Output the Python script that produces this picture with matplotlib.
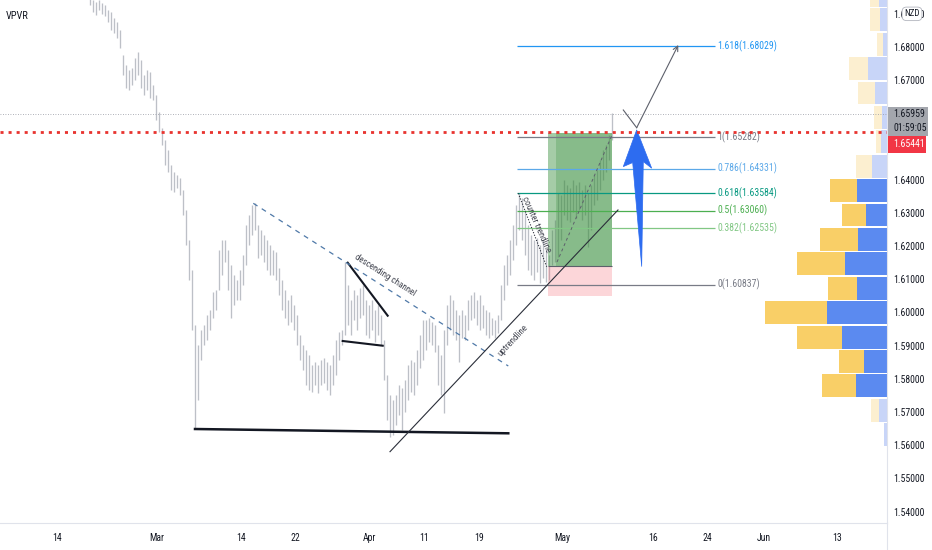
#EURNZD style chart: price bars, fib retracement, long position and VPVR profile

import numpy as np
import matplotlib.pyplot as plt
import matplotlib.transforms as mtransforms
from matplotlib.patches import Rectangle, Polygon

plt.rcParams['font.family'] = ['Liberation Sans Narrow', 'Roboto Condensed', 'DejaVu Sans']
plt.rcParams['font.stretch'] = 'condensed'

#bar highs / lows (one bar per step on the x axis)
highs = [1.6956, 1.6941, 1.6935, 1.6941, 1.6932, 1.6926, 1.6911, 1.6905, 1.6887, 1.6875,
         1.6851, 1.6775, 1.6745, 1.6730, 1.6736, 1.6766, 1.6784, 1.6760, 1.6715, 1.6730,
         1.6724, 1.6685, 1.6655, 1.6604, 1.6555, 1.6519, 1.6489, 1.6444, 1.6423, 1.6414,
         1.6405, 1.6369, 1.6308, 1.6218, 1.6128, 1.5962, 1.5902, 1.5947, 1.5962, 1.5992,
         1.6007, 1.6062, 1.6068, 1.6188, 1.6218, 1.6218, 1.6188, 1.6143, 1.6113, 1.6098,
         1.6128, 1.6173, 1.6263, 1.6293, 1.6324, 1.6330, 1.6263, 1.6248, 1.6233, 1.6218,
         1.6203, 1.6188, 1.6182, 1.6134, 1.6098, 1.6068, 1.6037, 1.6053, 1.6022, 1.5992,
         1.5932, 1.5902, 1.5887, 1.5872, 1.5842, 1.5851, 1.5842, 1.5857, 1.5863, 1.5851,
         1.5842, 1.5872, 1.5917, 1.5941, 1.5947, 1.6152, 1.6083, 1.6037, 1.6068, 1.6053,
         1.6074, 1.6083, 1.6037, 1.6022, 1.6037, 1.6007, 1.6022, 1.5992, 1.5917, 1.5812,
         1.5751, 1.5736, 1.5751, 1.5781, 1.5772, 1.5796, 1.5842, 1.5857, 1.5851, 1.5887,
         1.5932, 1.5977, 1.5977, 1.5983, 1.5971, 1.5962, 1.5902, 1.5872, 1.5947, 1.6022,
         1.6053, 1.6037, 1.6007, 1.5992, 1.6007, 1.5992, 1.6037, 1.6053, 1.6062, 1.6037,
         1.6053, 1.6022, 1.6007, 1.6001, 1.5983, 1.5977, 1.5992, 1.6083, 1.6143, 1.6173,
         1.6218, 1.6263, 1.6324, 1.6360, 1.6345, 1.6308, 1.6263, 1.6233, 1.6218, 1.6224,
         1.6203, 1.6218, 1.6188, 1.6173, 1.6248, 1.6278, 1.6360, 1.6354, 1.6399, 1.6384,
         1.6375, 1.6399, 1.6384, 1.6393, 1.6369, 1.6384, 1.6360, 1.6384, 1.6414, 1.6429,
         1.6459, 1.6489, 1.6504, 1.6534, 1.6601]
lows = [1.6926, 1.6905, 1.6896, 1.6911, 1.6899, 1.6893, 1.6875, 1.6851, 1.6842, 1.6827,
        1.6796, 1.6715, 1.6676, 1.6670, 1.6685, 1.6700, 1.6715, 1.6676, 1.6655, 1.6670,
        1.6646, 1.6640, 1.6580, 1.6543, 1.6504, 1.6444, 1.6423, 1.6369, 1.6363, 1.6375,
        1.6354, 1.6293, 1.6203, 1.6098, 1.5947, 1.5652, 1.5736, 1.5857, 1.5902, 1.5917,
        1.5947, 1.5983, 1.6007, 1.6068, 1.6113, 1.6152, 1.6068, 1.5983, 1.6022, 1.6037,
        1.6037, 1.6083, 1.6143, 1.6203, 1.6233, 1.6248, 1.6164, 1.6173, 1.6152, 1.6128,
        1.6113, 1.6113, 1.6098, 1.6053, 1.6007, 1.5983, 1.5962, 1.5971, 1.5947, 1.5902,
        1.5857, 1.5827, 1.5781, 1.5766, 1.5760, 1.5781, 1.5757, 1.5781, 1.5787, 1.5766,
        1.5751, 1.5781, 1.5812, 1.5857, 1.5902, 1.5932, 1.5962, 1.5932, 1.5977, 1.5947,
        1.5983, 1.5992, 1.5932, 1.5923, 1.5947, 1.5911, 1.5932, 1.5902, 1.5796, 1.5676,
        1.5625, 1.5631, 1.5661, 1.5691, 1.5646, 1.5700, 1.5736, 1.5760, 1.5751, 1.5781,
        1.5833, 1.5857, 1.5887, 1.5911, 1.5902, 1.5881, 1.5781, 1.5751, 1.5697, 1.5902,
        1.5947, 1.5932, 1.5917, 1.5851, 1.5923, 1.5917, 1.5947, 1.5977, 1.5983, 1.5962,
        1.5947, 1.5953, 1.5932, 1.5923, 1.5932, 1.5923, 1.5938, 1.5977, 1.6037, 1.6083,
        1.6113, 1.6158, 1.6203, 1.6248, 1.6218, 1.6173, 1.6128, 1.6113, 1.6098, 1.6122,
        1.6089, 1.6104, 1.6092, 1.6098, 1.6143, 1.6152, 1.6167, 1.6218, 1.6293, 1.6278,
        1.6272, 1.6302, 1.6284, 1.6308, 1.6278, 1.6293, 1.6197, 1.6248, 1.6324, 1.6339,
        1.6369, 1.6399, 1.6423, 1.6459, 1.6519]

#axis labels
date_ticks = [-11, 22.33, 50.33, 68.5, 93, 111.33, 129.67, 157.33, 187.67, 205.83, 224.67, 249]
date_labels = ['14', 'Mar', '14', '22', 'Apr', '11', '19', 'May', '16', '24', 'Jun', '13']
price_ticks = [1.54, 1.55, 1.56, 1.57, 1.58, 1.59, 1.60, 1.61, 1.62, 1.63, 1.64, 1.67, 1.68, 1.69]

last_price = 1.65959
last_timer = '01:59:05'
line_price = 1.65441

#fib retracement
fib_levels = ['1.618', '1', '0.786', '0.618', '0.5', '0.382', '0']
fib_prices = [1.68029, 1.65282, 1.64331, 1.63584, 1.63060, 1.62535, 1.60837]
fib_colors = ['#2196f3', '#787b86', '#5ba8e8', '#089981', '#4caf50', '#81c784', '#787b86']
fib_x = [142.33, 208.33]

#long position
pos_x = [152.67, 174]
pos_entry = 1.61395
pos_target = 1.65401
pos_stop = 1.60491

#drawings (bar index, price)
support_x, support_y = [35, 139.43], [1.56485, 1.56356]
wedge_hi_x, wedge_hi_y = [85.9, 99.23], [1.61494, 1.59898]
wedge_lo_x, wedge_lo_y = [84.23, 97.57], [1.59136, 1.58994]
channel_x, channel_y = [54.43, 139.43], [1.63283, 1.58383]
uptrend_x, uptrend_y = [100, 176], [1.55802, 1.63082]
counter_x, counter_y = [142.77, 152.23], [1.63585, 1.61374]
inbox_x, inbox_y = [155.67, 174], [1.61515, 1.65341]
proj_x, proj_y = [177.77, 182.23, 196.1], [1.66094, 1.65560, 1.68052]
arrow_x = [182.23, 187.23, 184.43, 183.9, 180.9, 177.77]
arrow_y = [1.65494, 1.64341, 1.64540, 1.61377, 1.64510, 1.64389]

#volume profile rows (bottom row first)
vp_low = 1.5597
vp_step = 0.00735
vp_up = [2.5, 8.3, 31.3, 23.3, 45, 60, 30.3, 42, 29.3, 20.7, 30.3, 15, 6.3, 5.3, 12, 18.7, 4.3, 7, 8]
vp_down = [0, 8, 34, 24.7, 44.7, 61.3, 28.4, 48.3, 37.4, 24.6, 26.7, 16, 4.7, 7.7, 17.3, 19, 6, 10, 9]
vp_value_area = [False, False, True, True, True, True, True, True, True, True, True,
                 False, False, False, False, False, False, False, False]


fig = plt.figure(figsize=(9.32, 5.5), dpi=100, facecolor='white')
ax = fig.add_axes([0, 27/550, 887/932, 523/550])
ax_vp = ax.twiny()
ax.set_zorder(2)
ax_vp.set_zorder(1)
ax.patch.set_visible(False)

ax.set_xlim(-30, 265.67)
ax.set_ylim(1.53654, 1.69407)

#volume profile, anchored to the right edge
rows = vp_low + vp_step * np.arange(len(vp_up))
up_col = ['#5b8af0' if v else '#c8d5f8' for v in vp_value_area]
dn_col = ['#f9cf67' if v else '#fcefd0' for v in vp_value_area]
ax_vp.barh(rows, vp_up, height=vp_step * 0.94, align='edge', color=up_col, lw=0)
ax_vp.barh(rows, vp_down, left=vp_up, height=vp_step * 0.94, align='edge', color=dn_col, lw=0)
vp_total = np.array(vp_up) + np.array(vp_down)
ax_vp.set_xlim(vp_total.max() / 0.137, 0)
ax_vp.set_xticks([])
for s in ax_vp.spines.values():
	s.set_visible(False)

#price bars
ax.vlines(np.arange(len(highs)), lows, highs, color='#bdc0c7', lw=0.95, zorder=2)

#horizontal price lines
ax.axhline(last_price, color='#9598a1', lw=0.6, ls=(0, (1, 2)), zorder=3)
ax.axhline(line_price, color='#e8332f', lw=2, ls=(0, (1.1, 1.8)), zorder=8)

#long position tool
w = pos_x[1] - pos_x[0]
ax.add_patch(Rectangle((pos_x[0], pos_entry), w, pos_target - pos_entry,
                       fc='#388e3c', alpha=0.45, ec='none', zorder=4))
ax.add_patch(Rectangle((pos_x[0] + 2.67, pos_entry), w - 2.67, pos_target - pos_entry,
                       fc='#388e3c', alpha=0.27, ec='none', zorder=4))
ax.add_patch(Rectangle((pos_x[0], pos_stop), w, pos_entry - pos_stop,
                       fc='#f23645', alpha=0.2, ec='none', zorder=4))
ax.hlines(pos_entry, pos_x[0], pos_x[1], color='#5d606b', lw=0.8, zorder=5)

#fib retracement
ax.hlines(fib_prices, fib_x[0], fib_x[1], colors=fib_colors, lw=0.9, zorder=5)
for lvl, p, c in zip(fib_levels, fib_prices, fib_colors):
	ax.text(fib_x[1] + 0.7, p, '{}({:.5f})'.format(lvl, p), color=c, fontsize=7,
	        va='center', ha='left', zorder=6)

#trend drawings
ax.plot(support_x, support_y, color='#131722', lw=1.8, zorder=6)
ax.plot(wedge_hi_x, wedge_hi_y, color='#131722', lw=1.5, zorder=6)
ax.plot(wedge_lo_x, wedge_lo_y, color='#131722', lw=1.5, zorder=6)
ax.plot(channel_x, channel_y, color='#4f79a8', lw=0.9, ls=(0, (4, 4)), zorder=6)
ax.plot(uptrend_x, uptrend_y, color='#2a2e39', lw=0.8, zorder=6)
ax.plot(counter_x, counter_y, color='#2a2e39', lw=0.8, ls=(0, (1, 1.5)), zorder=6)
ax.plot(inbox_x, inbox_y, color='#5d606b', lw=0.7, ls=(0, (3, 3)), zorder=6)

ax.plot(proj_x[:2], proj_y[:2], color='#5d606b', lw=0.8, zorder=6)
ax.annotate('', xy=(proj_x[2], proj_y[2]), xytext=(proj_x[1], proj_y[1]),
            arrowprops=dict(arrowstyle='->', color='#5d606b', lw=0.8,
                            shrinkA=0, shrinkB=0, mutation_scale=9), zorder=6)
ax.add_patch(Polygon(list(zip(arrow_x, arrow_y)), closed=True, fc='#2d6cf0',
                     ec='#2d6cf0', lw=0.5, zorder=7))

txt_kw = dict(fontsize=6.5, color='#434651', ha='center', va='center',
              rotation_mode='anchor', zorder=7)
ax.text(98.2, 1.6113, 'descending channel', rotation=-32.5, **txt_kw)
ax.text(140.9, 1.5914, 'uptrendline', rotation=46.7, **txt_kw)
ax.text(148.9, 1.62657, 'counter trendline', rotation=-66.3, **txt_kw)

ax.text(0.006, 0.969, 'VPVR', transform=ax.transAxes, fontsize=7.5,
        color='#131722', va='center', ha='left')

#axes styling
ax.yaxis.tick_right()
ax.set_yticks(price_ticks)
ax.set_yticklabels(['{:.5f}'.format(p) for p in price_ticks])
ax.set_xticks(date_ticks)
ax.set_xticklabels(date_labels)
ax.tick_params(axis='y', length=0, pad=4.5, labelsize=7, colors='#131722')
ax.tick_params(axis='x', length=0, pad=7, labelsize=7, colors='#131722')
for side in ['left', 'top']:
	ax.spines[side].set_visible(False)
for side in ['right', 'bottom']:
	ax.spines[side].set_color('#e0e3eb')
	ax.spines[side].set_linewidth(0.8)

#price axis labels
blend = mtransforms.blended_transform_factory(ax.transAxes, ax.transData)
ax.add_patch(Rectangle((1.001, last_price - 0.00645), 0.0452, 0.00873, transform=blend,
                       fc='#a3a6ad', ec='none', clip_on=False, zorder=9))
ax.text(1.0068, last_price, '{:.5f}'.format(last_price), transform=blend, fontsize=7,
        color='#131722', va='center', ha='left', clip_on=False, zorder=10)
ax.text(1.0068, last_price - 0.00404, last_timer, transform=blend, fontsize=7,
        color='#131722', va='center', ha='left', clip_on=False, zorder=10)
ax.add_patch(Rectangle((1.001, line_price - 0.00639), 0.043, 0.00512, transform=blend,
                       fc='#f23645', ec='none', clip_on=False, zorder=9))
ax.text(1.0068, line_price - 0.00383, '{:.5f}'.format(line_price), transform=blend,
        fontsize=7, color='white', va='center', ha='left', clip_on=False, zorder=10)
ax.text(1.0282, 1.6899, 'NZD', transform=blend, fontsize=6.5, color='#131722',
        va='center', ha='center', clip_on=False, zorder=10,
        bbox=dict(boxstyle='round,pad=0.25,rounding_size=0.5', fc='white', ec='#b2b5be', lw=0.6))

fig.add_artist(plt.Line2D([887/932, 887/932], [0, 27/550], color='#e0e3eb', lw=0.8))

fig.savefig('out.png', dpi=100, facecolor='white')
